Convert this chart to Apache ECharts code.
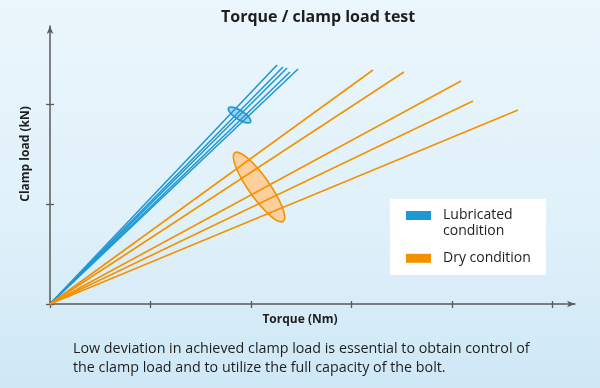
<!DOCTYPE html>
<html><head><meta charset="utf-8">
<script src="https://cdn.jsdelivr.net/npm/echarts@6/dist/echarts.min.js"></script>
<style>html,body{margin:0;padding:0;}#c{width:600px;height:388px;background:linear-gradient(to bottom,#ebf6fc 0%,#e0f1fa 55%,#cfe8f6 100%);}</style>
</head><body><div id="c"></div>
<script>
// Data (x in torque tick units, y in clamp-load tick units)
const lubricatedEndX = [2.259, 2.318, 2.358, 2.388, 2.468];
const lubricatedEndY = [2.39, 2.37, 2.36, 2.32, 2.35];
const dryEndX = [3.214, 3.522, 4.090, 4.209, 4.657];
const dryEndY = [2.34, 2.32, 2.23, 2.03, 1.94];
const spreadCenterX = [1.886, 2.080];
const spreadCenterY = [1.89, 1.17];
const xTicks = [0, 1, 2, 3, 4, 5];
const yTicks = [0, 1, 2];
const legendNames = ['Lubricated\ncondition', 'Dry condition'];
const titleText = 'Torque / clamp load test';
const xName = 'Torque (Nm)';
const yName = 'Clamp load (kN)';
const captionText = 'Low deviation in achieved clamp load is essential to obtain control of\nthe clamp load and to utilize the full capacity of the bolt.';

const BLUE = '#1e98d4', ORANGE = '#f39200', AX = '#5a5a5a', TXT = '#1e1e1e';
const F = 'Open Sans';
const X_MAX = 5.224, Y_MAX = 2.78;

const chart = echarts.init(document.getElementById('c'), null, {renderer: 'canvas'});
const series = [];
series.push({
  type: 'custom', silent: true, z: 1,
  data: spreadCenterX.map((x, i) => [x, spreadCenterY[i], i]),
  renderItem: function (params, api) {
    const p = api.coord([api.value(0), api.value(1)]);
    const i = api.value(2);
    const blue = i === 0;
    return {
      type: 'ellipse', x: p[0], y: p[1],
      rotation: blue ? -0.567 : -0.956,
      shape: {cx: 0, cy: 0, rx: blue ? 13 : 42, ry: blue ? 4.5 : 10.5},
      style: blue ? {fill: 'rgba(30,152,212,0.35)', stroke: BLUE, lineWidth: 1.6}
                  : {fill: '#fccf9c', stroke: ORANGE, lineWidth: 1.6}
    };
  }
});
lubricatedEndX.forEach((x, i) => series.push({
  type: 'line', name: legendNames[0], data: [[0, 0], [x, lubricatedEndY[i]]],
  symbol: 'none', silent: true, z: 3, itemStyle: {color: BLUE}, lineStyle: {color: BLUE, width: 1.6}
}));
dryEndX.forEach((x, i) => series.push({
  type: 'line', name: legendNames[1], data: [[0, 0], [x, dryEndY[i]]],
  symbol: 'none', silent: true, z: 3, itemStyle: {color: ORANGE}, lineStyle: {color: ORANGE, width: 1.6}
}));

const tickStyle = {color: AX, width: 1.3};
chart.setOption({
  animation: false,
  textStyle: {fontFamily: F},
  title: [
    {text: titleText, left: 221, top: 8, padding: 0,
     textStyle: {fontFamily: F, fontSize: 16, fontWeight: 'bold', color: TXT, lineHeight: 18}},
    {text: captionText, left: 73, top: 339.5, padding: 0,
     textStyle: {fontFamily: F, fontSize: 14.3, fontWeight: 'normal', color: TXT, lineHeight: 19}}
  ],
  graphic: [{type: 'rect', left: 390, top: 199, z: 1, shape: {width: 156, height: 76}, style: {fill: '#ffffff'}}],
  legend: {
    orient: 'vertical', left: 406, top: 191.5, padding: 0, z: 10,
    itemWidth: 25, itemHeight: 9, itemGap: 10.8, icon: 'rect', selectedMode: false,
    textStyle: {fontFamily: F, fontSize: 14, lineHeight: 16, color: TXT, padding: [0, 0, 0, 7]},
    formatter: function (name) { return name === legendNames[0] ? '\n' + name : name; },
    data: legendNames
  },
  grid: {left: 50, top: 26, right: 25, bottom: 84, containLabel: false},
  xAxis: [
    {type: 'value', min: 0, max: X_MAX, interval: 1, position: 'bottom',
     name: xName, nameLocation: 'middle', nameGap: 8,
     nameTextStyle: {fontFamily: F, fontSize: 12, fontWeight: 'bold', color: TXT, lineHeight: 16, padding: [0, 25, 0, 0]},
     axisLine: {show: true, onZero: false, symbol: ['none', 'arrow'], symbolSize: [5, 8], lineStyle: {color: AX, width: 1.5}},
     axisTick: {show: true, length: 4, customValues: xTicks, lineStyle: tickStyle},
     axisLabel: {show: false}, splitLine: {show: false}},
    {type: 'value', min: 0, max: X_MAX, interval: 1, position: 'bottom', offset: 0,
     axisLine: {show: false}, axisLabel: {show: false}, splitLine: {show: false},
     axisTick: {show: true, inside: true, length: 3, customValues: xTicks, lineStyle: tickStyle}}
  ],
  yAxis: [
    {type: 'value', min: 0, max: Y_MAX, interval: 1, position: 'left',
     name: yName, nameLocation: 'middle', nameGap: 16, nameRotate: 90,
     nameTextStyle: {fontFamily: F, fontSize: 12, fontWeight: 'bold', color: TXT, lineHeight: 16, padding: [0, 0, 0, 22]},
     axisLine: {show: true, onZero: false, symbol: ['none', 'arrow'], symbolSize: [5, 8], lineStyle: {color: AX, width: 1.5}},
     axisTick: {show: true, length: 4, customValues: yTicks, lineStyle: tickStyle},
     axisLabel: {show: false}, splitLine: {show: false}},
    {type: 'value', min: 0, max: Y_MAX, interval: 1, position: 'left', offset: 0,
     axisLine: {show: false}, axisLabel: {show: false}, splitLine: {show: false},
     axisTick: {show: true, inside: true, length: 4, customValues: yTicks, lineStyle: tickStyle}}
  ],
  series: series
});
</script></body></html>
